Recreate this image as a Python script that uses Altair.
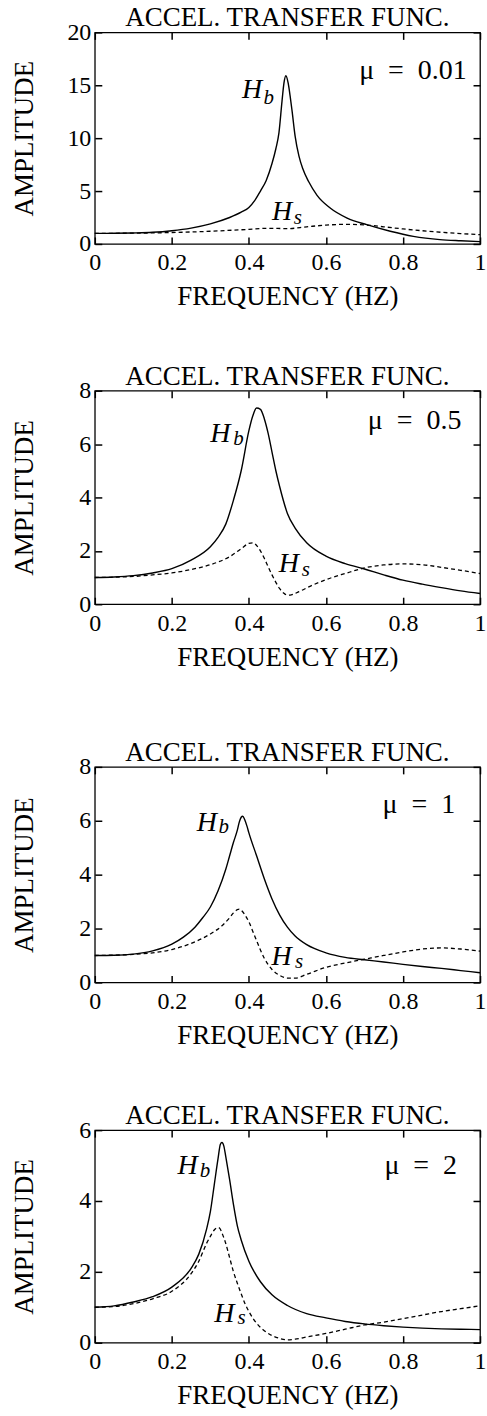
import altair as alt
import pandas as pd

FONT = "Liberation Serif"
TITLE = "ACCEL. TRANSFER FUNC."
X_TITLE = "FREQUENCY (HZ)"
Y_TITLE = "AMPLITUDE"
X_TICKS = [0, 0.2, 0.4, 0.6, 0.8, 1]

# ---- mass ratio 0.01 ----
hb1_f = [0, 0.05, 0.1, 0.15, 0.2, 0.25, 0.3, 0.35, 0.38, 0.4, 0.415, 0.43, 0.445, 0.46, 0.47,
         0.478, 0.486, 0.491, 0.496, 0.502, 0.507, 0.512, 0.52, 0.53, 0.54, 0.555, 0.577, 0.611,
         0.655, 0.706, 0.767, 0.827, 0.896, 0.95, 1.0]
hb1_a = [1.0, 1.01, 1.04, 1.1, 1.25, 1.5, 1.9, 2.5, 3.0, 3.45, 4.1, 5.0, 6.0, 7.6, 9.0,
         10.5, 13.5, 15.2, 15.9, 15.2, 14.0, 12.6, 10.2, 8.3, 7.1, 5.9, 4.6, 3.4,
         2.45, 1.82, 1.2, 0.72, 0.41, 0.3, 0.22]
hs1_f = [0, 0.1, 0.2, 0.3, 0.4, 0.45, 0.5, 0.55, 0.6, 0.65, 0.7, 0.75, 0.8, 0.85, 0.9, 0.95, 1.0]
hs1_a = [1.0, 1.02, 1.08, 1.2, 1.38, 1.48, 1.45, 1.62, 1.78, 1.85, 1.8, 1.62, 1.42, 1.25, 1.1, 0.98, 0.88]

# ---- mass ratio 0.5 ----
hb2_f = [0, 0.05, 0.1, 0.15, 0.2, 0.25, 0.3, 0.32, 0.34, 0.36, 0.38, 0.40, 0.41, 0.42, 0.43,
         0.44, 0.45, 0.46, 0.47, 0.48, 0.5, 0.52, 0.55, 0.6, 0.65, 0.7, 0.75, 0.8, 0.85, 0.9,
         0.95, 1.0]
hb2_a = [1.0, 1.02, 1.07, 1.17, 1.33, 1.65, 2.15, 2.5, 3.0, 3.9, 5.0, 6.5, 7.05, 7.35, 7.3,
         6.95, 6.4, 5.7, 5.0, 4.4, 3.4, 2.85, 2.3, 1.8, 1.52, 1.32, 1.1, 0.9, 0.75, 0.62,
         0.5, 0.4]
hs2_f = [0, 0.1, 0.15, 0.2, 0.25, 0.3, 0.35, 0.38, 0.40, 0.41, 0.42, 0.43, 0.44, 0.45, 0.46,
         0.47, 0.48, 0.49, 0.5, 0.51, 0.53, 0.56, 0.6, 0.65, 0.7, 0.75, 0.8, 0.85, 0.9, 0.95, 1.0]
hs2_a = [1.0, 1.04, 1.1, 1.17, 1.3, 1.48, 1.78, 2.08, 2.28, 2.3, 2.2, 2.0, 1.72, 1.4, 1.1,
         0.82, 0.58, 0.42, 0.34, 0.35, 0.47, 0.68, 0.92, 1.15, 1.36, 1.47, 1.51, 1.48, 1.38,
         1.27, 1.15]

# ---- mass ratio 1 ----
hb3_f = [0, 0.05, 0.1, 0.15, 0.2, 0.23, 0.26, 0.28, 0.3, 0.32, 0.34, 0.35, 0.36, 0.37, 0.375,
         0.38, 0.384, 0.389, 0.395, 0.40, 0.42, 0.44, 0.46, 0.48, 0.5, 0.52, 0.55, 0.6, 0.65,
         0.7, 0.75, 0.8, 0.85, 0.9, 0.95, 1.0]
hb3_a = [1.0, 1.01, 1.05, 1.17, 1.42, 1.68, 2.05, 2.4, 2.8, 3.4, 4.2, 4.7, 5.2, 5.65, 5.95,
         6.13, 6.17, 6.05, 5.8, 5.55, 4.7, 3.85, 3.1, 2.5, 2.05, 1.72, 1.4, 1.1, 0.93,
         0.84, 0.76, 0.67, 0.59, 0.52, 0.44, 0.36]
hs3_f = [0, 0.1, 0.15, 0.2, 0.25, 0.3, 0.33, 0.35, 0.36, 0.37, 0.375, 0.38, 0.39, 0.40, 0.41,
         0.42, 0.43, 0.44, 0.46, 0.48, 0.5, 0.52, 0.55, 0.6, 0.65, 0.7, 0.75, 0.8, 0.85, 0.9,
         0.95, 1.0]
hs3_a = [1.0, 1.04, 1.1, 1.22, 1.45, 1.8, 2.1, 2.4, 2.58, 2.7, 2.72, 2.68, 2.5, 2.25, 1.9,
         1.55, 1.2, 0.9, 0.48, 0.26, 0.16, 0.16, 0.3, 0.56, 0.72, 0.86, 1.0, 1.13, 1.24, 1.28,
         1.24, 1.16]

# ---- mass ratio 2 ----
hb4_f = [0, 0.05, 0.1, 0.15, 0.2, 0.25, 0.27, 0.29, 0.30, 0.31, 0.32, 0.326, 0.33, 0.335, 0.34,
         0.35, 0.36, 0.37, 0.38, 0.4, 0.43, 0.46, 0.5, 0.55, 0.6, 0.65, 0.7, 0.75, 0.8, 0.85,
         0.9, 0.95, 1.0]
hb4_a = [1.0, 1.04, 1.15, 1.3, 1.57, 2.1, 2.5, 3.2, 3.7, 4.45, 5.2, 5.6, 5.65, 5.55, 5.25,
         4.6, 3.9, 3.3, 2.9, 2.3, 1.72, 1.35, 1.05, 0.82, 0.7, 0.6, 0.53, 0.48, 0.44, 0.41,
         0.39, 0.38, 0.37]
hs4_f = [0, 0.05, 0.1, 0.15, 0.2, 0.25, 0.27, 0.29, 0.30, 0.31, 0.32, 0.325, 0.33, 0.34, 0.35,
         0.36, 0.37, 0.38, 0.39, 0.40, 0.42, 0.44, 0.46, 0.48, 0.5, 0.52, 0.55, 0.6, 0.65, 0.7,
         0.75, 0.8, 0.85, 0.9, 0.95, 1.0]
hs4_a = [1.0, 1.02, 1.1, 1.24, 1.45, 1.95, 2.3, 2.8, 3.0, 3.18, 3.25, 3.22, 3.1, 2.8, 2.4,
         2.0, 1.68, 1.38, 1.1, 0.88, 0.55, 0.34, 0.2, 0.12, 0.08, 0.1, 0.16, 0.26, 0.38, 0.5,
         0.58, 0.68, 0.78, 0.88, 0.96, 1.04]

# curve labels: text, frequency, amplitude, font size
lab1 = (["H", "b", "H", "s"], [0.4085, 0.4516, 0.486, 0.527], [13.75, 13.27, 2.26, 1.89], [28, 21, 28, 21])
lab2 = (["H", "b", "H", "s"], [0.3256, 0.373, 0.504, 0.5475], [6.08, 5.96, 1.22, 1.07], [28, 21, 28, 21])
lab3 = (["H", "b", "H", "s"], [0.291, 0.335, 0.485, 0.5305], [5.63, 5.56, 0.65, 0.53], [28, 21, 28, 21])
lab4 = (["H", "b", "H", "s"], [0.241, 0.286, 0.336, 0.381], [4.75, 4.69, 0.59, 0.52], [28, 21, 28, 21])

# mass-ratio annotation: text, right edge frequency, baseline amplitude
SP = "\u2002"
mu1 = ("\u03bc" + SP + "=" + SP + "0.01", 0.9655, 15.6)
mu2 = ("\u03bc" + SP + "=" + SP + "0.5", 0.9517, 6.55)
mu3 = ("\u03bc" + SP + "=" + SP + "1", 0.9354, 6.3)
mu4 = ("\u03bc" + SP + "=" + SP + "2", 0.9404, 4.75)

PANELS = [
    dict(hb=(hb1_f, hb1_a), hs=(hs1_f, hs1_a), ymax=20, yticks=[0, 5, 10, 15, 20], h=212, lab=lab1, mu=mu1),
    dict(hb=(hb2_f, hb2_a), hs=(hs2_f, hs2_a), ymax=8, yticks=[0, 2, 4, 6, 8], h=214, lab=lab2, mu=mu2),
    dict(hb=(hb3_f, hb3_a), hs=(hs3_f, hs3_a), ymax=8, yticks=[0, 2, 4, 6, 8], h=216, lab=lab3, mu=mu3),
    dict(hb=(hb4_f, hb4_a), hs=(hs4_f, hs4_a), ymax=6, yticks=[0, 2, 4, 6], h=213, lab=lab4, mu=mu4),
]

W = 386
TICK = 7
TICK_STYLE = dict(ticks=True, tickSize=TICK, tickWidth=1.5, tickColor="black", tickOpacity=1,
                  offset=-TICK, domain=False, grid=False, zindex=1)


def panel(p):
    h = p["h"]
    xs = alt.Scale(domain=[0, 1], nice=False, zero=False)
    ys = alt.Scale(domain=[0, p["ymax"]], nice=False)

    # bottom/left axes carry labels and titles; top/right axes only the ticks.
    # Each axis is pulled inside the frame by its tick length so ticks point inward.
    x_bottom = alt.Axis(orient="bottom", values=X_TICKS, format="~g", title=X_TITLE,
                        labelFlush=False, labelPadding=7, titlePadding=9, **TICK_STYLE)
    y_left = alt.Axis(orient="left", values=p["yticks"], title=Y_TITLE, labelPadding=4,
                      titleAngle=270, titleX=-70 - TICK, titleY=h / 2,
                      titleAlign="center", titleBaseline="middle", **TICK_STYLE)
    x_top = alt.Axis(orient="top", values=X_TICKS, labels=False, title=None, **TICK_STYLE)
    y_right = alt.Axis(orient="right", values=p["yticks"], labels=False, title=None, **TICK_STYLE)

    def X(field, axis=None):
        return alt.X(field, type="quantitative", scale=xs, axis=axis)

    def Y(field, axis=None):
        return alt.Y(field, type="quantitative", scale=ys, axis=axis)

    df_b = pd.DataFrame({"f": p["hb"][0], "a": p["hb"][1]})
    df_s = pd.DataFrame({"f": p["hs"][0], "a": p["hs"][1]})

    hb = alt.Chart(df_b).mark_line(color="black", strokeWidth=1.4, interpolate="monotone").encode(
        x=X("f", x_bottom), y=Y("a", y_left))
    hs = alt.Chart(df_s).mark_line(color="black", strokeWidth=1.3, strokeDash=[4, 3],
                                   interpolate="monotone").encode(
        x=X("f", x_top), y=Y("a", y_right))

    t, lf, la, ls = p["lab"]
    df_l = pd.DataFrame({"t": t, "f": lf, "a": la, "s": ls})
    labels = alt.Chart(df_l).mark_text(font=FONT, fontStyle="italic", align="center",
                                       baseline="alphabetic", color="black").encode(
        x=X("f"), y=Y("a"), text="t:N", size=alt.Size("s:Q", scale=None, legend=None))

    mt, mf, ma = p["mu"]
    df_m = pd.DataFrame({"t": [mt], "f": [mf], "a": [ma]})
    mu = alt.Chart(df_m).mark_text(font=FONT, fontSize=28, align="right", baseline="alphabetic",
                                   color="black").encode(x=X("f"), y=Y("a"), text="t:N")

    return alt.layer(hb, hs, labels, mu).resolve_axis(
        x="independent", y="independent"
    ).properties(
        width=W, height=h,
        title=alt.TitleParams(TITLE, font=FONT, fontSize=27, fontWeight="normal",
                              color="black", offset=-12, anchor="middle"))


p1, p2, p3, p4 = [panel(p) for p in PANELS]
chart = alt.vconcat(
    alt.vconcat(p1, p2, spacing=51),
    alt.vconcat(p3, p4, spacing=52),
    spacing=67,
).properties(
    padding={"left": 10, "top": 2, "right": 0, "bottom": 0},
    background="white",
).configure_view(
    stroke="black", strokeWidth=1.3
).configure_axis(
    labelFont=FONT, labelFontSize=24, labelColor="black",
    titleFont=FONT, titleFontSize=27, titleFontWeight="normal", titleColor="black",
)

chart.save("out.html", embed_options={"renderer": "svg", "actions": False})
